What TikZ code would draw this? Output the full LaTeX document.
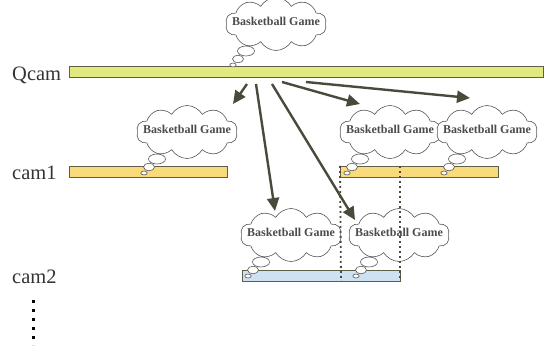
\documentclass[tikz,border=0pt]{standalone}
\usepackage{fontspec}
\setmainfont{Liberation Serif}
\usetikzlibrary{shapes.symbols,arrows.meta,calc}
\definecolor{edge}{HTML}{5F5F45}
\definecolor{qfill}{HTML}{E2E97E}
\definecolor{cafill}{HTML}{FADB7B}
\definecolor{cbfill}{HTML}{CDE1F2}
\definecolor{ink}{HTML}{4A4A3C}
\definecolor{cloudline}{HTML}{555555}
\tikzset{
  bar/.style={draw=edge, line width=1pt, anchor=north west, inner sep=0pt, minimum height=11pt},
  camlabel/.style={font=\fontsize{20.5}{20.5}\selectfont, text=black!80, anchor=base west, inner sep=0pt},
  thought/.style={cloud, cloud puffs=10, cloud puff arc=120, aspect=2, draw=cloudline, fill=white,
    line width=0.6pt, inner sep=0pt, minimum width=101pt, minimum height=53pt},
  cloudtext/.style={font=\bfseries\fontsize{12}{12}\selectfont, text=black!70, inner sep=0pt, yshift=3pt},
  puff/.style={draw=cloudline, fill=white, line width=0.6pt},
  feed/.style={draw=ink, line width=2.4pt, -{Triangle[length=13pt,width=12pt]}},
  guide/.style={draw=ink, line width=1.8pt, dash pattern=on 1.8pt off 3.2pt},
  more/.style={draw=black, line width=3pt, dash pattern=on 3.3pt off 5.7pt},
}
% thought-bubble tail below a cloud node
\newcommand{\bubbletail}[1]{%
  \draw[puff] ($(#1.center)+(-30,27)$) ellipse [x radius=8.5, y radius=5];
  \draw[puff] ($(#1.center)+(-38,35)$) ellipse [x radius=5.5, y radius=3.8];
  \draw[puff] ($(#1.center)+(-43,41)$) ellipse [x radius=3.2, y radius=2];
}
\begin{document}
\begin{tikzpicture}[x=1pt, y=-1pt]
\useasboundingbox (0,0) rectangle (548,345);

% camera streams
\node[bar, fill=qfill, minimum width=474pt] (qcam) at (69,66) {};
\node[bar, fill=cafill, minimum width=158pt] (camA) at (69,166) {};
\node[bar, fill=cafill, minimum width=158pt] (camB) at (340,166) {};
\node[bar, fill=cbfill, minimum width=158pt] (camC) at (242,270) {};

\node[camlabel] (lq) at (12,80) {Qcam};
\node[camlabel] (l1) at (12,179) {cam1};
\node[camlabel] (l2) at (12,283) {cam2};

% query labels
\node[thought] (tq) at (276,24) {};
\bubbletail{tq}
\node[cloudtext] (tqx) at (tq.center) {Basketball Game};
\node[thought] (t1) at (187,132) {};
\bubbletail{t1}
\node[cloudtext] (t1x) at (t1.center) {Basketball Game};
\node[thought] (t2) at (390,132) {};
\bubbletail{t2}
\node[cloudtext] (t2x) at (t2.center) {Basketball Game};
\node[thought] (t3) at (487,132) {};
\bubbletail{t3}
\node[cloudtext] (t3x) at (t3.center) {Basketball Game};
\node[thought] (t4) at (291,235) {};
\bubbletail{t4}
\node[cloudtext] (t4x) at (t4.center) {Basketball Game};
\node[thought] (t5) at (399,235) {};
\bubbletail{t5}
\node[cloudtext] (t5x) at (t5.center) {Basketball Game};

% propagation arrows
\coordinate (s1) at (247,84);  \coordinate (e1) at (233,104);
\coordinate (s2) at (256,84);  \coordinate (e2) at (275,211);
\coordinate (s3) at (272,84);  \coordinate (e3) at (355,220);
\coordinate (s4) at (282,82);  \coordinate (e4) at (360,104);
\coordinate (s5) at (306,82);  \coordinate (e5) at (470,98);
\draw[feed] (s1) -- (e1);
\draw[feed] (s2) -- (e2);
\draw[feed] (s3) -- (e3);
\draw[feed] (s4) -- (e4);
\draw[feed] (s5) -- (e5);

% alignment guides
\coordinate (g1) at (341,281);
\coordinate (g2) at (400,281);
\draw[guide] (camB.north west) -- (g1);
\draw[guide] (camB.north west -| g2) -- (g2);

% further cameras
\coordinate (m1) at (33,300);
\coordinate (m2) at (33,345);
\draw[more] (m1) -- (m2);
\end{tikzpicture}
\end{document}
